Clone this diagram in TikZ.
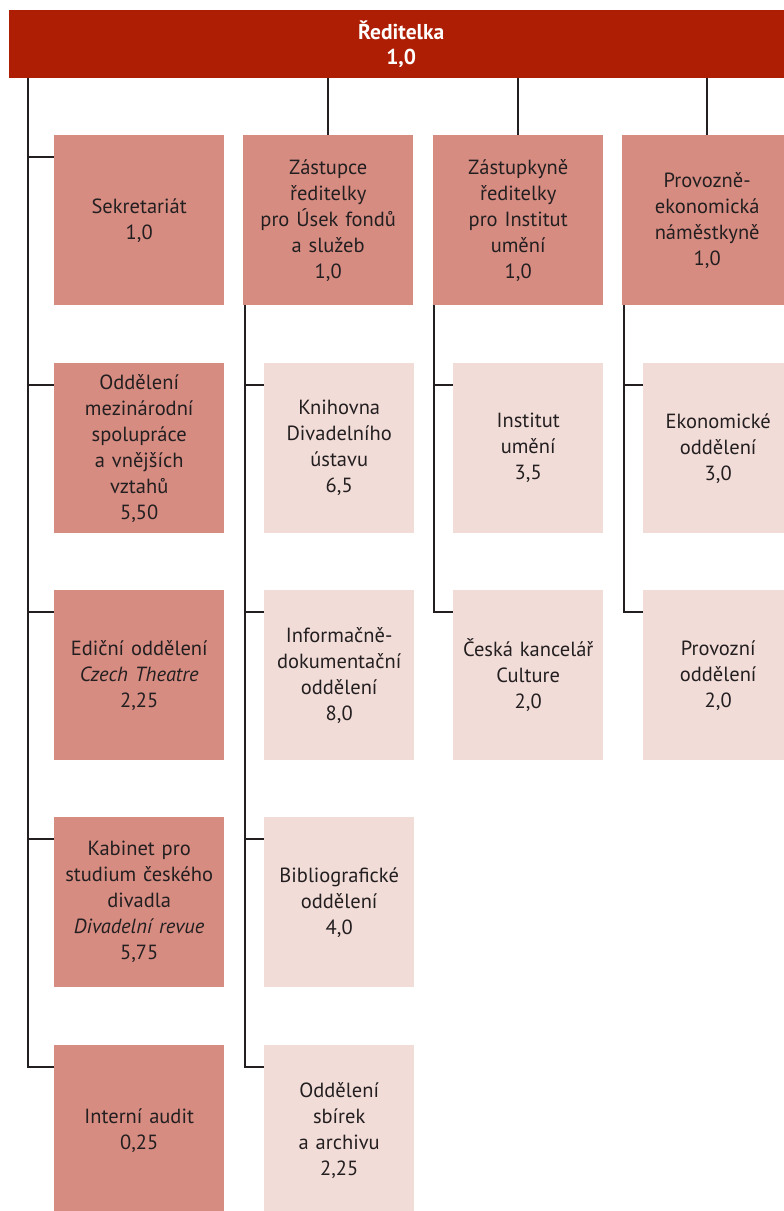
\documentclass[tikz,border=0pt]{standalone}
\usepackage{fontspec}
\setmainfont{PT Sans}
\usetikzlibrary{positioning}
\definecolor{headred}{HTML}{AE1E04}
\definecolor{unitred}{HTML}{D78C82}
\definecolor{deptpink}{HTML}{F2DCD8}
\definecolor{linegray}{HTML}{231F20}
\tikzset{
  box/.style={anchor=north west, minimum height=170pt, inner sep=0pt,
    align=center, text=linegray, font=\fontsize{20.5}{26}\selectfont},
  unit/.style={box, fill=unitred, minimum width=170pt, text width=166pt},
  dept/.style={box, fill=deptpink, minimum width=150pt, text width=148pt},
  link/.style={draw=linegray, line width=2.2pt}
}

\begin{document}
\begin{tikzpicture}[x=1pt, y=-1pt]
            \useasboundingbox (0,0) rectangle (784,1211);
            \node[anchor=north west, fill=headred, minimum width=784pt, minimum height=68pt,
              inner sep=0pt, align=center, text=white, font=\fontsize{21.5}{25}\selectfont\bfseries]
              (head) at (9,10) {Ředitelka\\1,0};
            \coordinate (spine) at (28,0);
            \node[unit] (sekr) at (54,135) {Sekretariát\\1,0};
            \node[unit] (mezi) at (54,363) {Oddělení\\mezinárodní\\spolupráce\\a vnějších\\vztahů\\5,50};
            \node[unit] (edic) at (54,590) {Ediční oddělení\\\textit{Czech Theatre}\\2,25};
            \node[unit] (kabi) at (54,817) {Kabinet pro\\studium českého\\divadla\\\textit{Divadelní revue}\\5,75};
            \node[unit] (audit) at (54,1045) {Interní audit\\0,25};
            \node[unit] (fondy) at (243,135) {Zástupce\\ředitelky\\pro Úsek fondů\\a služeb\\1,0};
            \node[dept] (knih) at (264,363) {Knihovna\\Divadelního\\ústavu\\6,5};
            \node[dept] (info) at (264,590) {Informačně-\\dokumentační\\oddělení\\8,0};
            \node[dept] (bibl) at (264,817) {Bibliografické\\oddělení\\4,0};
            \node[dept] (sbir) at (264,1045) {Oddělení\\sbírek\\a archivu\\2,25};
            \node[unit] (inst) at (433,135) {Zástupkyně\\ředitelky\\pro Institut\\umění\\1,0};
            \node[dept] (umeni) at (453,363) {Institut\\umění\\3,5};
            \node[dept] (ceska) at (453,590) {Česká kancelář\\Culture\\2,0};
            \node[unit] (ekon) at (622,135) {Provozně-\\ekonomická\\náměstkyně\\1,0};
            \node[dept] (ekod) at (643,363) {Ekonomické\\oddělení\\3,0};
            \node[dept] (prov) at (643,590) {Provozní\\oddělení\\2,0};

            \draw[link] (head.south -| spine) |- ([yshift=-22pt]audit.north west);
            \foreach \n in {sekr,mezi,edic,kabi}
              \draw[link] ([yshift=-22pt]\n.north west) -- ++(-26pt,0);
            \foreach \n in {fondy,inst,ekon}
              \draw[link] (head.south -| \n.north) -- (\n.north);
            \draw[link] ([xshift=2pt]fondy.south west) |- ([yshift=-22pt]sbir.north west);
            \foreach \n in {knih,info,bibl}
              \draw[link] ([yshift=-22pt]\n.north west) -- ++(-19pt,0);
            \draw[link] ([xshift=1pt]inst.south west) |- ([yshift=-22pt]ceska.north west);
            \draw[link] ([yshift=-22pt]umeni.north west) -- ++(-19pt,0);
            \draw[link] ([xshift=2pt]ekon.south west) |- ([yshift=-22pt]prov.north west);
            \draw[link] ([yshift=-22pt]ekod.north west) -- ++(-19pt,0);
        \end{tikzpicture}
\end{document}
